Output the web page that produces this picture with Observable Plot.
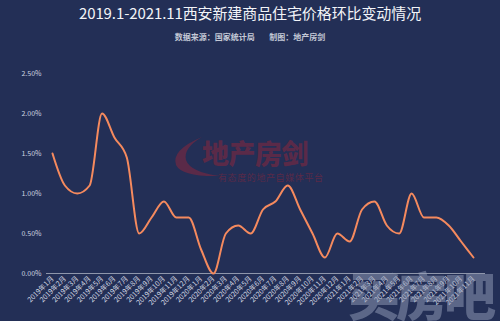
<!DOCTYPE html>
<html>
<head>
<meta charset="utf-8">
<script src="https://cdn.jsdelivr.net/npm/d3@7"></script>
<script src="https://cdn.jsdelivr.net/npm/@observablehq/plot@0.6"></script>
<style>
  html, body { margin: 0; padding: 0; background: #232f56; }
  body { width: 500px; height: 321px; overflow: hidden; position: relative; font-family: "Noto Sans CJK SC", "Noto Sans", sans-serif; }
  #head { height: 50px; position: relative; }
  #title { position: absolute; left: 0; width: 500px; top: 3px; text-align: center; color: #f2f4f8; font-size: 15px; line-height: 20px; letter-spacing: -0.1px; }
  #sub { position: absolute; left: 0; width: 500px; top: 31px; text-align: center; color: #c4c9d6; font-size: 8px; line-height: 11px; font-weight: bold; }
  #logo { position: absolute; left: 202px; top: 137px; color: #5a2a48; font-size: 27px; font-weight: 900; line-height: 32px; letter-spacing: -0.5px; z-index: 0; }
  #logo2 { position: absolute; left: 218px; top: 172px; color: #5a2a48; font-size: 9px; line-height: 11px; letter-spacing: 0.6px; z-index: 0; }
  #swoosh { position: absolute; left: 0; top: 0; z-index: 0; }
  #wm { position: absolute; left: 348px; top: 262px; color: rgba(150,160,185,0.5); font-size: 52px; font-weight: 900; line-height: 64px; letter-spacing: -4px; z-index: 2; pointer-events: none; white-space: nowrap; }
  #chart { position: relative; z-index: 1; }
  #chart svg text { paint-order: stroke; }
</style>
</head>
<body>
<div id="head">
  <div id="title">2019.1-2021.11西安新建商品住宅价格环比变动情况</div>
  <div id="sub">数据来源：国家统计局&nbsp;&nbsp;&nbsp;&nbsp;&nbsp;&nbsp;&nbsp;&nbsp;制图：地产房剑</div>
</div>
<svg id="swoosh" width="500" height="321"><path d="M202 137 Q171 150 176 165 Q182 177 220 176 Q190 172 186 160 Q183 148 202 137 Z" fill="#5a2a48"/></svg>
<div id="logo">地产房剑</div>
<div id="logo2">有态度的地产自媒体平台</div>
<div id="chart"></div>
<div id="wm">买房吧</div>
<script>
const months = [
  "2019年1月","2019年2月","2019年3月","2019年4月","2019年5月","2019年6月",
  "2019年7月","2019年8月","2019年9月","2019年10月","2019年11月","2019年12月",
  "2020年1月","2020年2月","2020年3月","2020年4月","2020年5月","2020年6月",
  "2020年7月","2020年8月","2020年9月","2020年10月","2020年11月","2020年12月",
  "2021年1月","2021年2月","2021年3月","2021年4月","2021年5月","2021年6月",
  "2021年7月","2021年8月","2021年9月","2021年10月","2021年11月"
];
const changePct = [
  1.5, 1.1, 1.0, 1.1, 2.0, 1.7,
  1.45, 0.5, 0.7, 0.9, 0.7, 0.7,
  0.3, 0.0, 0.5, 0.6, 0.5, 0.8,
  0.9, 1.1, 0.8, 0.5, 0.2, 0.5,
  0.4, 0.8, 0.9, 0.6, 0.5, 1.0,
  0.7, 0.7, 0.6, 0.4, 0.2
];
const yTicks = [0, 0.5, 1.0, 1.5, 2.0, 2.5];

const data = months.map((m, i) => ({idx: i, month: m, value: changePct[i]}));

const chart = Plot.plot({
  width: 500,
  height: 271,
  marginTop: 23,
  marginBottom: 48,
  marginLeft: 46,
  marginRight: 15,
  style: {background: "transparent", color: "#cfd4e0", fontSize: "7px", fontFamily: "'Noto Sans CJK SC', sans-serif"},
  x: {type: "linear", domain: [0, months.length - 1], insetLeft: 6, insetRight: 12, label: null},
  y: {domain: [0, 2.5], label: null},
  marks: [
    Plot.axisY({ticks: yTicks, tickFormat: d => d.toFixed(2) + "%", tickSize: 0, tickPadding: 5, fill: "#cfd4e0", fontSize: 7}),
    Plot.axisX({ticks: d3.range(months.length), tickFormat: i => months[i], tickSize: 0, tickPadding: 4, tickRotate: -45, fill: "#d3d7e2", stroke: "#1a2444", strokeWidth: 1.5, fontSize: 7}),
    Plot.ruleY([0], {stroke: "#8e96ab", strokeWidth: 1}),
    Plot.line(data, {x: "idx", y: "value", curve: "monotone-x", stroke: "#f58a5e", strokeWidth: 2})
  ]
});
document.getElementById("chart").appendChild(chart);
</script>
</body>
</html>
